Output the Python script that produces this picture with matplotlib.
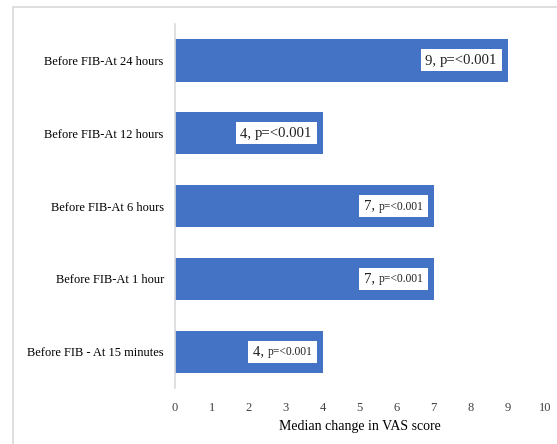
import matplotlib.pyplot as plt
from matplotlib.offsetbox import TextArea, HPacker, AnnotationBbox
from matplotlib.patches import Rectangle

plt.rcParams['font.family'] = ['Liberation Serif', 'DejaVu Serif']

# Data (bottom to top)
categories = ['Before FIB - At 15 minutes', 'Before FIB-At 1 hour', 'Before FIB-At 6 hours',
              'Before FIB-At 12 hours', 'Before FIB-At 24 hours']
median_change = [4, 7, 7, 4, 9]
p_labels = ['p=<0.001', 'p=<0.001', 'p=<0.001', 'p=<0.001', 'p=<0.001']
p_small = [True, True, True, False, False]

bar_color = '#4472C4'
grid_gray = '#D9D9D9'

fig = plt.figure(figsize=(5.57, 4.44), dpi=100)
ax = fig.add_axes([0.314, 0.126, 0.664, 0.82])

ypos = list(range(len(categories)))
ax.barh(ypos, median_change, height=0.58, color=bar_color)

# value labels in white boxes at the bar ends
for y, v, p, small in zip(ypos, median_change, p_labels, p_small):
    big = TextArea(f'{v}, ', textprops=dict(fontsize=10.6, color='#202020'))
    rest = TextArea(p, textprops=dict(fontsize=8.3 if small else 10.6, color='#202020'))
    pack = HPacker(children=[big, rest], align='baseline', pad=0, sep=0)
    ab = AnnotationBbox(pack, (v, y), xybox=(-7.5, 0), xycoords='data',
                        boxcoords='offset points', box_alignment=(1, 0.5),
                        frameon=True, pad=0.32,
                        bboxprops=dict(facecolor='white', edgecolor='none'))
    ax.add_artist(ab)

ax.set_xlim(0, 10)
ax.set_ylim(-0.5, 4.5)
ax.set_xticks(range(0, 11))
ax.set_yticks(ypos)
ax.set_yticklabels(categories, fontsize=9)
ax.tick_params(axis='x', labelsize=9, length=0, pad=10, colors='#404040')
ax.tick_params(axis='y', length=0, pad=8)
for s in ['top', 'right', 'bottom']:
    ax.spines[s].set_visible(False)
ax.spines['left'].set_color(grid_gray)
ax.spines['left'].set_linewidth(1.2)
ax.set_xlabel('Median change in VAS score', fontsize=10, labelpad=4)

# outer chart border
fig.patches.append(Rectangle((0.0233, -0.05), 1.1, 1.034, transform=fig.transFigure,
                             fill=False, edgecolor=grid_gray, linewidth=1.2))

fig.savefig('out.png', dpi=100)
